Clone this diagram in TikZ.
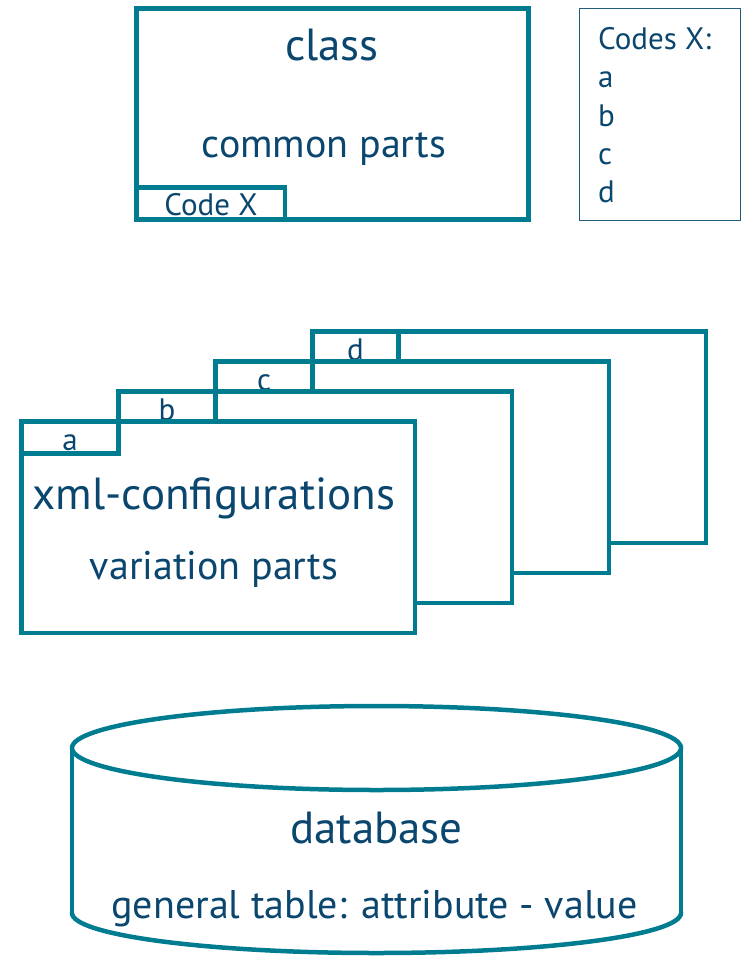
\documentclass[tikz,border=0pt]{standalone}
\usepackage{fontspec}
\setmainfont{PT Sans}
\definecolor{lineteal}{RGB}{0,124,145}
\definecolor{inkblue}{RGB}{10,70,110}
\definecolor{listframe}{RGB}{35,95,125}
\tikzset{
  cardframe/.style={draw=lineteal, line width=4.5pt, fill=white},
  lbl/.style={text=inkblue, anchor=base, inner sep=0pt},
  bigtxt/.style={lbl, font=\fontsize{45}{50}\selectfont},
  midtxt/.style={lbl, font=\fontsize{40}{44}\selectfont},
  smalltxt/.style={lbl, font=\fontsize{31}{35}\selectfont}
}
\begin{document}
\begin{tikzpicture}[x=1pt, y=-1pt]
\useasboundingbox (0,0) rectangle (743,956);

% Clase
\draw[cardframe] (136.5,8.5) rectangle (528.5,219.5);
\draw[cardframe] (136.5,187.5) rectangle (285,219.5);
\node[bigtxt] (cls) at (332,60) {class};
\node[midtxt] (common) at (324,157.5) {common parts};
\node[smalltxt] (codex) at (211,215) {Code X};

% Lista de codigos
\draw[draw=listframe, line width=1.5pt] (579.5,8.5) rectangle (740.5,220.5);
\node[smalltxt, anchor=base west] (codes) at (598,49.5) {Codes X:};
\foreach \c [count=\i] in {a,b,c,d}
  \node[smalltxt, anchor=base west] (code-\c) at (598,{49.5+38.3*\i}) {\c};

% Configuraciones
\foreach \c/\i/\tw in {d/3/86, c/2/97, b/1/97, a/0/97} {
  \draw[cardframe] ({21.5+97*\i},{421.5-30*\i}) rectangle ++(393.5,211.5);
  \draw[cardframe] ({21.5+97*\i},{421.5-30*\i}) rectangle ++(\tw,32);
  \node[smalltxt] (tab-\c) at ({21.5+97*\i+\tw/2},{450-30*\i}) {\c};
}
\node[bigtxt] (xmlcfg) at (214,509) {xml-configurations};
\node[midtxt] (varparts) at (214,579) {variation parts};

% Base de datos
\draw[cardframe] (376.5,913) ellipse (304.5 and 40);
\fill[white] (72,748) rectangle (681,913);
\draw[lineteal, line width=4.5pt] (72,748) -- (72,913) (681,748) -- (681,913);
\draw[cardframe] (376.5,748) ellipse (304.5 and 42);
\node[bigtxt] (db) at (376.5,843) {database};
\node[midtxt] (dbtable) at (374.5,918) {general table: attribute - value};
\end{tikzpicture}
\end{document}
